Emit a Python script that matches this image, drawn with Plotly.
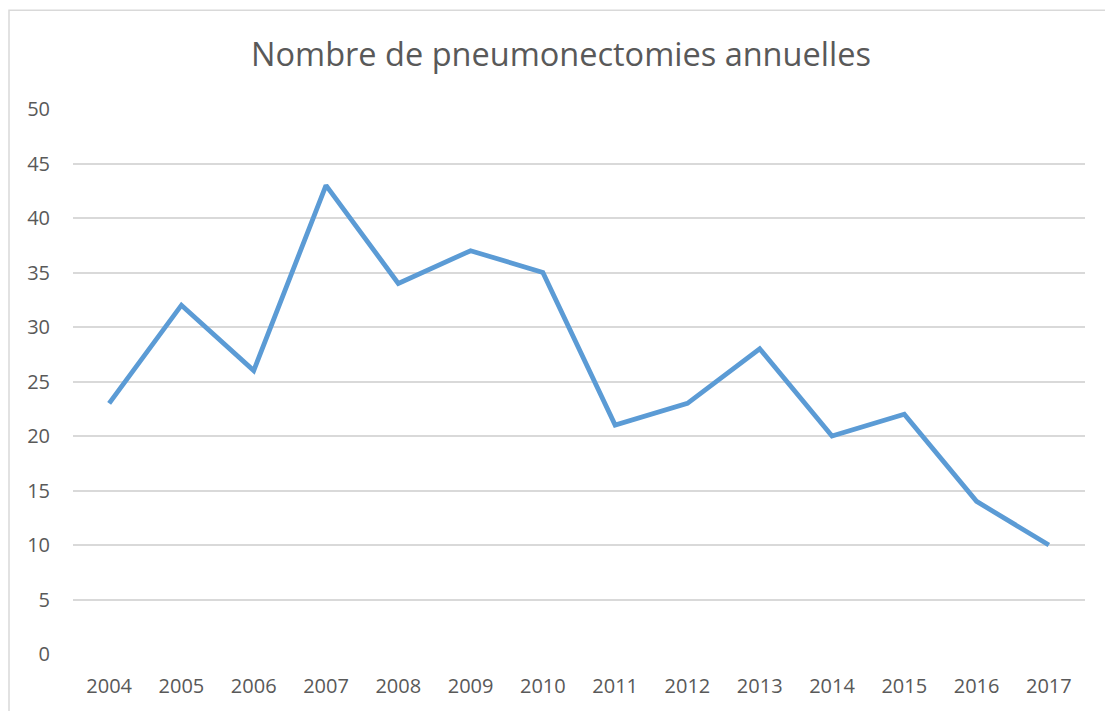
import plotly.graph_objects as go

years = ["2004", "2005", "2006", "2007", "2008", "2009", "2010",
         "2011", "2012", "2013", "2014", "2015", "2016", "2017"]
counts = [23, 32, 26, 43, 34, 37, 35, 21, 23, 28, 20, 22, 14, 10]
y_ticks = [0, 5, 10, 15, 20, 25, 30, 35, 40, 45, 50]

W, H = 1105, 711
L, R, T, B = 73, 20, 109, 55
pw, ph = W - L - R, H - T - B

def px_x(p):
    return (p - L) / pw

def px_y(p):
    return (H - B - p) / ph

fig = go.Figure()
fig.add_trace(go.Scatter(
    x=years, y=counts, mode="lines",
    line=dict(color="#5B9BD5", width=4.8),
    hoverinfo="x+y",
))

font_family = "Open Sans, Liberation Sans, sans-serif"
fig.update_layout(
    width=W, height=H,
    margin=dict(l=L, r=R, t=T, b=B),
    paper_bgcolor="white", plot_bgcolor="white",
    showlegend=False,
    title=dict(text="Nombre de pneumonectomies annuelles",
               x=561 / W, xref="container", xanchor="center",
               y=1 - 55 / H, yref="container", yanchor="middle",
               font=dict(family=font_family, size=32.5, color="#595959")),
    xaxis=dict(type="category", showgrid=False, zeroline=False,
               showline=False, ticks="", range=[-0.5, len(years) - 0.5],
               tickfont=dict(family=font_family, size=20, color="#595959"),
               ticklabelstandoff=18),
    yaxis=dict(range=[0, 50], tickvals=y_ticks, showgrid=True,
               gridcolor="#D9D9D9", gridwidth=1.6, zeroline=False,
               showline=False, ticks="",
               tickfont=dict(family=font_family, size=20, color="#595959"),
               ticklabelstandoff=22),
    shapes=[dict(type="rect", xref="paper", yref="paper",
                 x0=px_x(9), x1=px_x(1115), y0=px_y(720), y1=px_y(10),
                 line=dict(color="#D9D9D9", width=1.5), layer="below")],
)

fig.write_html("out.html",
               config={"displayModeBar": False},
               post_script="document.body.style.margin='0';document.body.style.padding='0';")
